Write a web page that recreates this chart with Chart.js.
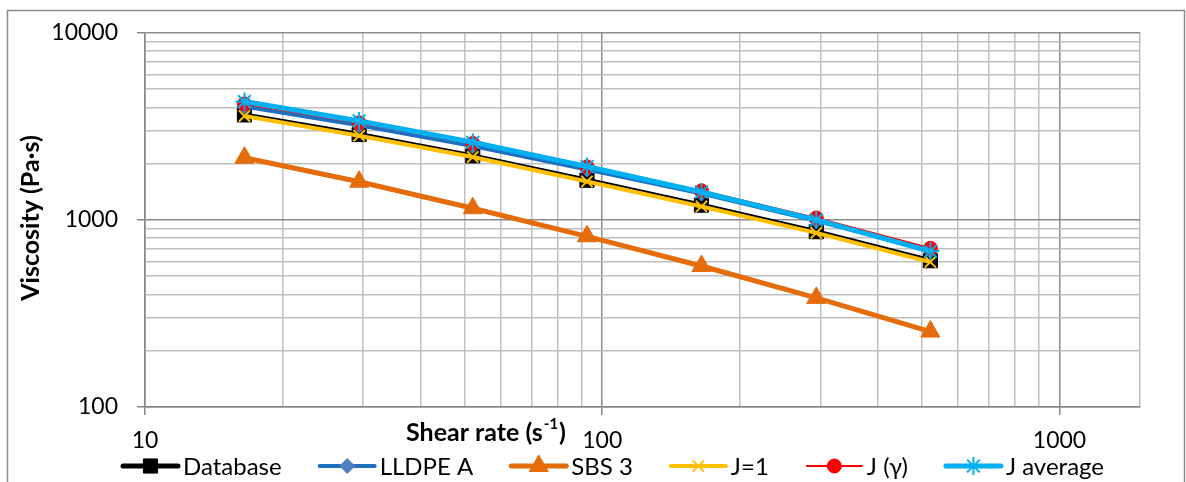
<!DOCTYPE html>
<html>
<head>
<meta charset="utf-8">
<script src="https://cdn.jsdelivr.net/npm/chart.js@4.4.0/dist/chart.umd.min.js"></script>
<style>
  html, body { margin: 0; padding: 0; background: #fff; overflow: hidden; }
</style>
</head>
<body>
<canvas id="myChart" width="1186" height="482"></canvas>
<script>
// data
const shearRate = [16.5, 29.4, 52.1, 92.6, 164.8, 293.8, 522];
const database  = [3640, 2860, 2200, 1630, 1200, 865, 605];
const lldpeA    = [4040, 3200, 2480, 1860, 1385, 990, 685];
const sbs3      = [2150, 1600, 1155, 817, 567, 383, 253];
const jOne      = [3590, 2820, 2170, 1605, 1180, 852, 596];
const jGamma    = [4170, 3300, 2560, 1920, 1430, 1025, 705];
const jAverage  = [4290, 3380, 2600, 1930, 1410, 1000, 680];

const seriesNames = ['Database', 'LLDPE A', 'SBS 3', 'J=1', 'J (γ)', 'J average'];
const xLabels = [10, 100, 1000];
const yLabels = [100, 1000, 10000];
const xMax = 1500;

const FONT = 'Lato';

function pts(ys) {
    return ys.map((y, i) => ({ x: shearRate[i], y: y }));
}

// log grid: 1..9 of each decade
function logTicks(lo, hi) {
    const out = [];
    for (let d = lo; d < hi; d *= 10) {
        for (let k = 1; k <= 9; k++) {
            if (k * d <= hi) out.push({ value: k * d });
        }
    }
    if (out[out.length - 1].value !== hi) out.push({ value: hi });
    return out;
}

const isMajor = v => Math.abs(Math.log10(v) - Math.round(Math.log10(v))) < 1e-9;

const frame = {
    id: 'frame',
    beforeDraw(chart) {
        const c = chart.ctx;
        c.save();
        c.fillStyle = '#fff';
        c.fillRect(0, 0, chart.width, chart.height);
        c.strokeStyle = '#8c8c8c';
        c.lineWidth = 1.5;
        c.strokeRect(7.5, 10.5, 1177, 500);
        c.restore();
    },
    afterDraw(chart) {
        const c = chart.ctx;
        c.save();
        c.fillStyle = '#000';

        // y title
        c.font = 'bold 25px ' + FONT;
        c.textAlign = 'center';
        c.textBaseline = 'middle';
        c.translate(31, 218);
        c.rotate(-Math.PI / 2);
        c.fillText('Viscosity (Pa·s)', 0, 0);
        c.setTransform(1, 0, 0, 1, 0, 0);

        // x title with superscript
        const a = 'Shear rate (s', sup = '-1', b = ')';
        c.font = 'bold 25px ' + FONT;
        const wa = c.measureText(a).width, wb = c.measureText(b).width;
        c.font = 'bold 15px ' + FONT;
        const ws = c.measureText(sup).width;
        let x = 485 - (wa + ws + wb) / 2;
        c.textAlign = 'left';
        c.textBaseline = 'middle';
        c.font = 'bold 25px ' + FONT;
        c.fillText(a, x, 433);
        c.font = 'bold 15px ' + FONT;
        c.fillText(sup, x + wa + 1, 424);
        c.font = 'bold 25px ' + FONT;
        c.fillText(b, x + wa + ws + 2, 433);

        // legend: line sample + marker + label
        const ly = 466;
        let lx = 123;
        c.font = '24px ' + FONT;
        chart.data.datasets.forEach(ds => {
            c.strokeStyle = ds.borderColor;
            c.lineWidth = ds.borderWidth;
            c.lineCap = 'round';
            c.beginPath();
            c.moveTo(lx, ly);
            c.lineTo(lx + 55, ly);
            c.stroke();
            c.fillStyle = ds.pointBackgroundColor;
            c.strokeStyle = ds.pointBorderColor;
            c.lineWidth = ds.pointBorderWidth;
            c.lineCap = 'butt';
            Chart.helpers.drawPoint(c, {
                pointStyle: ds.pointStyle,
                radius: ds.pointRadius,
                borderWidth: ds.pointBorderWidth,
                rotation: 0
            }, lx + 27.5, ly);
            c.fillStyle = '#000';
            c.fillText(ds.label, lx + 60, ly + 1);
            lx += 60 + c.measureText(ds.label).width + 38;
        });
        c.restore();
    }
};

const ctx = document.getElementById('myChart');

new Chart(ctx, {
    type: 'line',
    data: {
        datasets: [
            {
                label: seriesNames[0], data: pts(database), order: 6,
                borderColor: '#000000', borderWidth: 5,
                pointStyle: 'rect', pointRadius: 10,
                pointBackgroundColor: '#000000', pointBorderColor: '#000000', pointBorderWidth: 1
            },
            {
                label: seriesNames[1], data: pts(lldpeA), order: 5,
                borderColor: '#1F6FC0', borderWidth: 4,
                pointStyle: 'rectRot', pointRadius: 7.5,
                pointBackgroundColor: '#4F81BD', pointBorderColor: '#4F81BD', pointBorderWidth: 1
            },
            {
                label: seriesNames[2], data: pts(sbs3), order: 4,
                borderColor: '#E46C0A', borderWidth: 5,
                pointStyle: 'triangle', pointRadius: 11,
                pointBackgroundColor: '#E46C0A', pointBorderColor: '#E46C0A', pointBorderWidth: 1
            },
            {
                label: seriesNames[3], data: pts(jOne), order: 3,
                borderColor: '#FFC000', borderWidth: 4,
                pointStyle: 'crossRot', pointRadius: 8,
                pointBackgroundColor: '#FFC000', pointBorderColor: '#FFC000', pointBorderWidth: 2
            },
            {
                label: seriesNames[4], data: pts(jGamma), order: 2,
                borderColor: '#FF0000', borderWidth: 2,
                pointStyle: 'circle', pointRadius: 7,
                pointBackgroundColor: '#FF0000', pointBorderColor: '#FF0000', pointBorderWidth: 1
            },
            {
                label: seriesNames[5], data: pts(jAverage), order: 1,
                borderColor: '#00B0F0', borderWidth: 5,
                pointStyle: 'star', pointRadius: 9,
                pointBackgroundColor: '#00B0F0', pointBorderColor: '#00B0F0', pointBorderWidth: 2
            }
        ]
    },
    options: {
        responsive: false,
        animation: false,
        layout: { padding: { left: 0, right: 46, top: 30, bottom: 0 } },
        plugins: {
            legend: { display: false },
            tooltip: { enabled: false }
        },
        elements: { line: { tension: 0 } },
        scales: {
            x: {
                type: 'logarithmic',
                min: 10,
                max: xMax,
                afterFit: s => { s.height = 75; },
                afterBuildTicks: s => { s.ticks = logTicks(10, xMax); },
                border: { color: '#868686', width: 1.5 },
                grid: {
                    color: c => isMajor(c.tick.value) ? '#8c8c8c' : '#c0c0c0',
                    lineWidth: 1.5,
                    tickLength: 8,
                    tickColor: c => isMajor(c.tick.value) ? '#868686' : 'rgba(0,0,0,0)'
                },
                ticks: {
                    autoSkip: false,
                    maxRotation: 0,
                    padding: 12,
                    color: '#000',
                    font: { family: FONT, size: 23 },
                    callback: v => xLabels.includes(v) ? String(v) : ''
                }
            },
            y: {
                type: 'logarithmic',
                min: 100,
                max: 10000,
                afterFit: s => { s.width = 145; },
                afterBuildTicks: s => { s.ticks = logTicks(100, 10000); },
                border: { color: '#868686', width: 1.5 },
                grid: {
                    color: c => isMajor(c.tick.value) ? '#8c8c8c' : '#c0c0c0',
                    lineWidth: 1.5,
                    tickLength: 8,
                    tickColor: c => isMajor(c.tick.value) ? '#868686' : 'rgba(0,0,0,0)'
                },
                ticks: {
                    autoSkip: false,
                    padding: 19,
                    color: '#000',
                    font: { family: FONT, size: 23 },
                    callback: v => yLabels.includes(v) ? String(v) : ''
                }
            }
        }
    },
    plugins: [frame]
});
</script>
</body>
</html>
